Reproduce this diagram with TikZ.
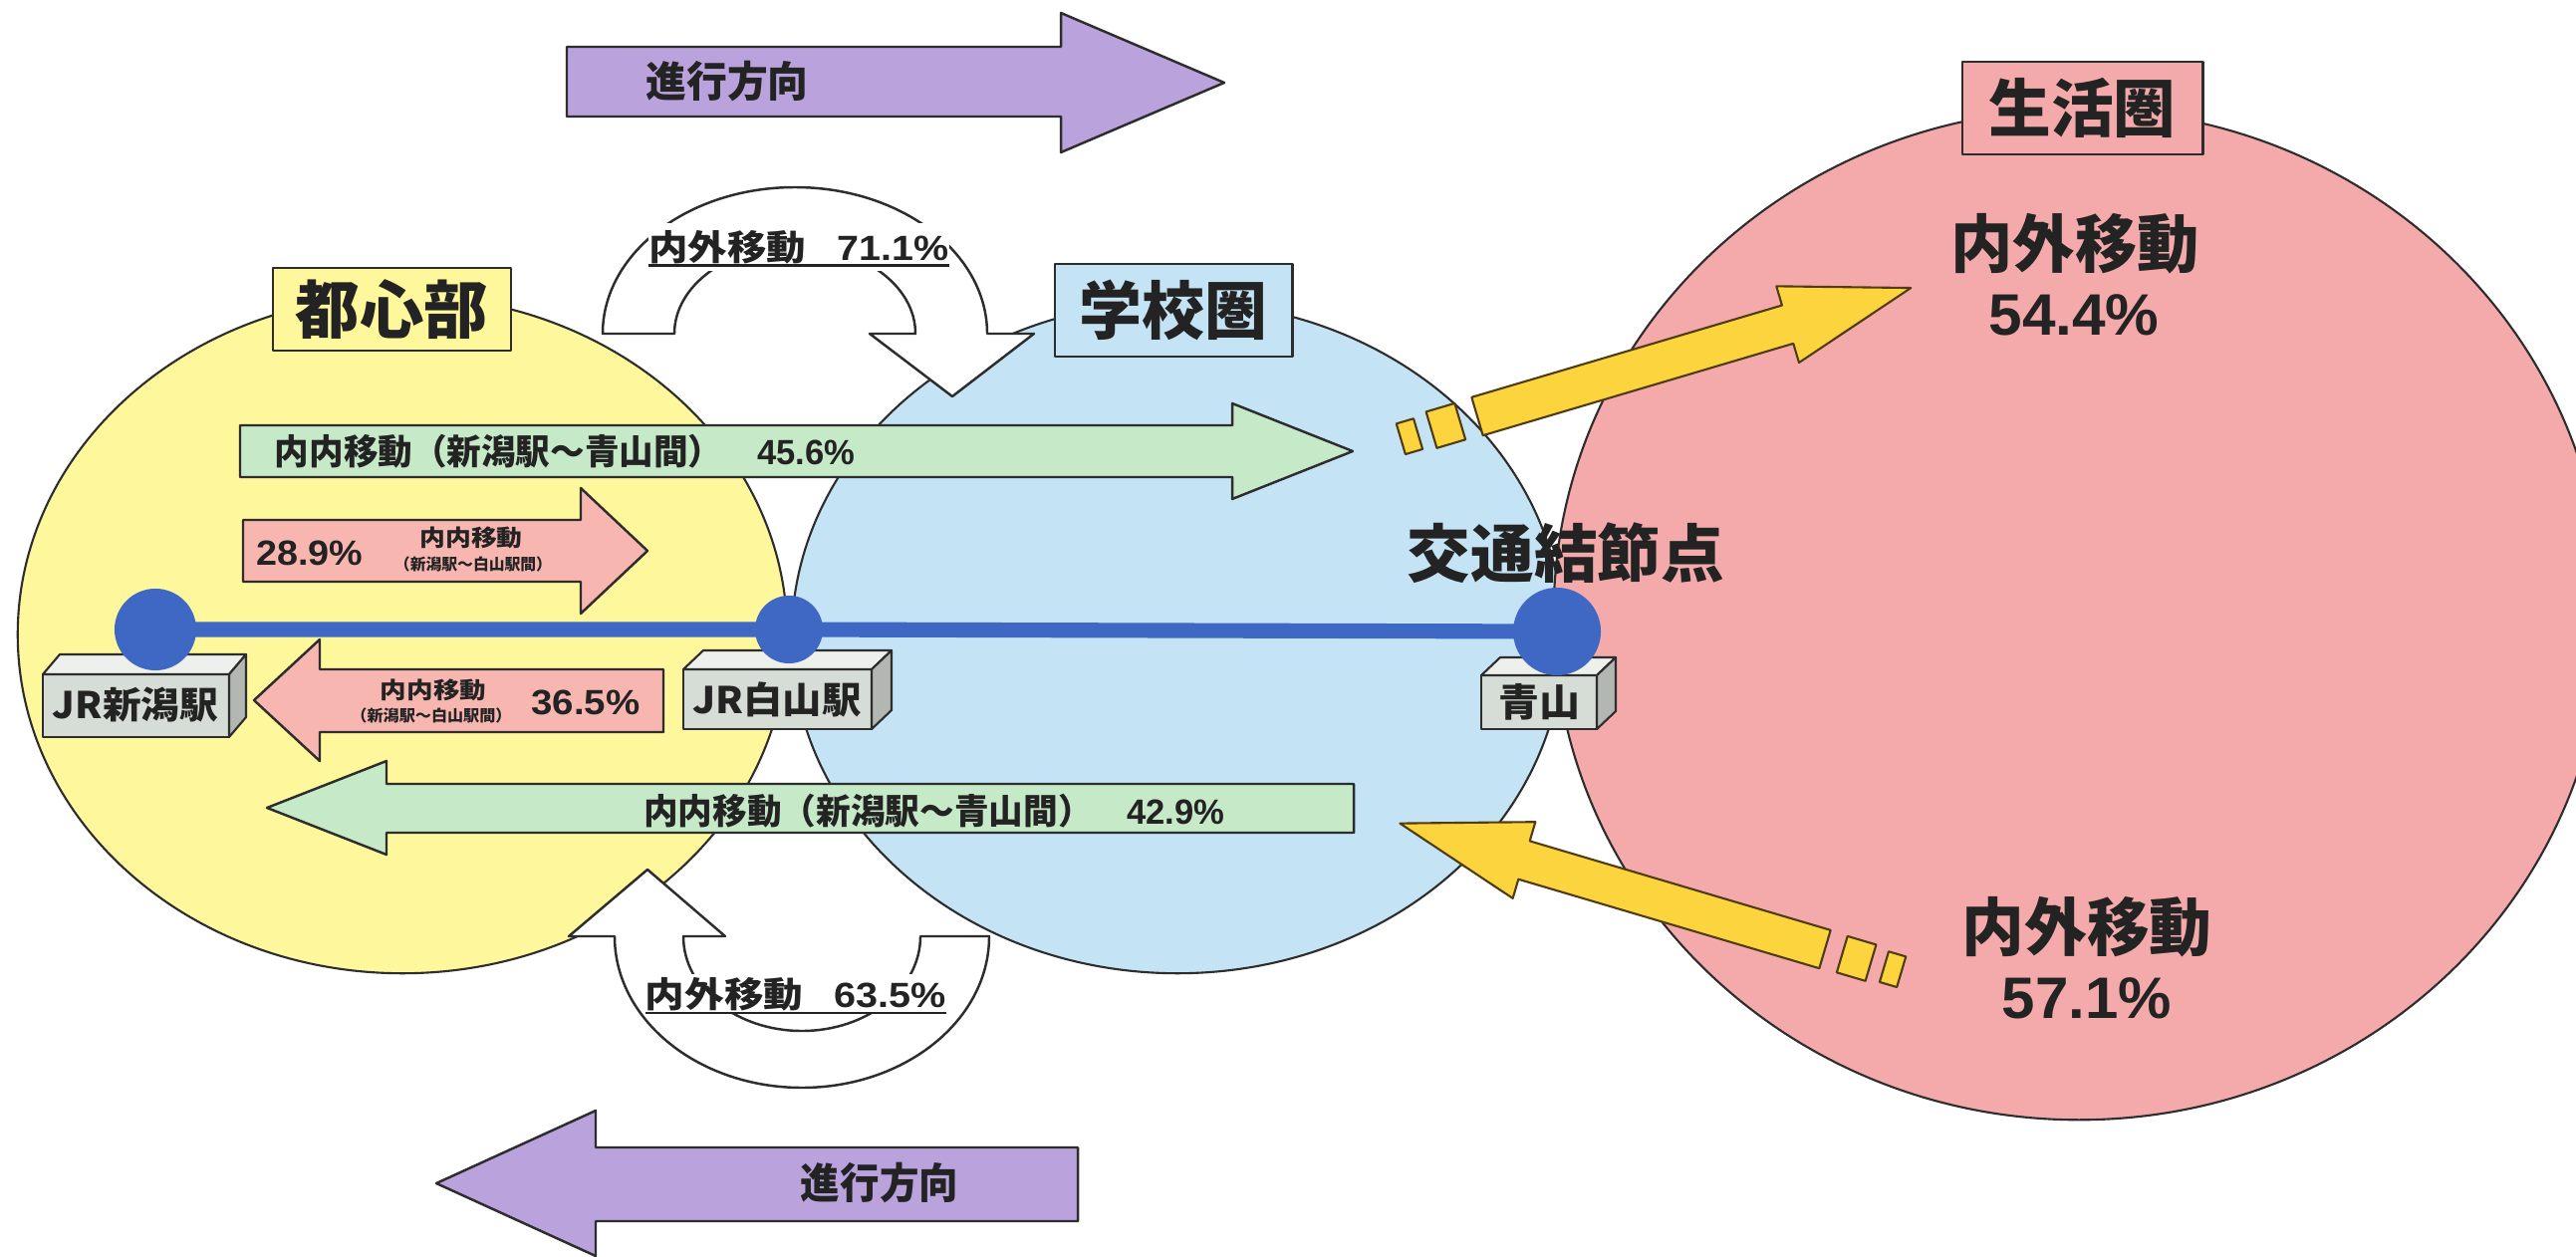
\documentclass[tikz,border=0pt]{standalone}
\usepackage{fontspec}
\setmainfont{Noto Sans CJK JP}
\newfontfamily\latf{Liberation Sans}
\usepackage{graphicx}
\usetikzlibrary{shapes.geometric}
\newcommand\fw[2]{\resizebox{#1}{\height}{#2}}
\newcommand\fs[1]{\fontsize{#1}{#1}\selectfont}
\definecolor{ylw}{RGB}{255,247,155}
\definecolor{sky}{RGB}{196,228,246}
\definecolor{pnk}{RGB}{244,170,170}
\definecolor{grn}{RGB}{198,233,200}
\definecolor{sal}{RGB}{248,182,176}
\definecolor{prp}{RGB}{186,162,220}
\definecolor{gold}{RGB}{252,212,62}
\definecolor{goldL}{RGB}{80,60,20}
\definecolor{lineC}{RGB}{45,45,45}
\definecolor{txtC}{RGB}{35,35,35}
\definecolor{stn}{RGB}{62,104,196}
\definecolor{boxF}{RGB}{214,220,214}
\definecolor{boxT}{RGB}{238,240,236}
\definecolor{boxS}{RGB}{178,183,178}
\begin{document}
\begin{tikzpicture}[x=0.01cm, y=0.01cm, line join=round,
 outl/.style={draw=lineC, line width=0.7pt},
 goldl/.style={draw=goldL, line width=0.6pt, fill=gold},
 area/.style={ellipse, draw=lineC, line width=0.6pt, inner sep=0pt},
 lbl/.style={text=txtC, inner sep=0pt, outer sep=0pt},
 tagbox/.style={draw=lineC, line width=0.8pt, inner sep=0pt, text=txtC, font=\bfseries\fs{18pt}},
 dot/.style={circle, fill=stn, inner sep=0pt},
 stfront/.style={draw=lineC, line width=0.6pt, fill=boxF},
 sttop/.style={draw=lineC, line width=0.6pt, fill=boxT},
 stside/.style={draw=lineC, line width=0.6pt, fill=boxS},
 ]
\fill[white] (0,0) rectangle (2586,-1261);
\useasboundingbox (0,0) rectangle (2586,-1261);
\clip (0,0) rectangle (2586,-1261);

% direction arrows
\draw[outl, fill=prp] (569,-47) -- (1065,-47) -- (1065,-13) -- (1229,-83) -- (1065,-153) -- (1065,-117) -- (569,-117) -- cycle;
\node[lbl, font=\bfseries\fs{12pt}] (dirTop) at (730,-82) {\fw{1.63cm}{進行方向}};
\draw[outl, fill=prp] (1082,-1152) -- (598,-1152) -- (598,-1115) -- (438,-1188) -- (598,-1261) -- (598,-1226) -- (1082,-1226) -- cycle;
\node[lbl, font=\bfseries\fs{12pt}] (dirBot) at (883,-1188) {\fw{1.58cm}{進行方向}};

% areas
\node[area, fill=ylw, minimum width=7.72cm, minimum height=6.8cm] (toshinArea) at (404,-637) {};
\node[area, fill=sky, minimum width=7.74cm, minimum height=6.74cm] (gakkoArea) at (1182,-640) {};
\node[area, fill=pnk, minimum width=10.54cm, minimum height=10.14cm] (seikatsuArea) at (2087,-617) {};

\node[tagbox, fill=ylw, minimum width=2.39cm, minimum height=0.83cm] (toshinTag) at (393.5,-310.5) {\fw{1.93cm}{都心部}};
\node[tagbox, fill=sky, minimum width=2.38cm, minimum height=0.93cm] (gakkoTag) at (1178,-311.5) {\fw{1.89cm}{学校圏}};
\node[tagbox, fill=pnk, minimum width=2.41cm, minimum height=0.93cm] (seikatsuTag) at (2090.5,-108.5) {\fw{1.88cm}{生活圏}};

% curved white arrows
\draw[outl, fill=white] (605,-335) arc[start angle=180, end angle=0, x radius=193, y radius=147] -- (1038,-335) -- (956,-398) -- (873,-335) -- (919,-335) arc[start angle=0, end angle=180, x radius=121, y radius=88] -- cycle;
\node[lbl, fill=white, inner ysep=2pt, font=\bfseries\fs{10pt}] (arcTopLbl) at (802,-248) {\fw{3.01cm}{内外移動\hspace{0.8em}{\latf 71.1\%}}};
\draw[txtC, line width=0.7pt] ([yshift=-0.055cm]arcTopLbl.base west) -- ([yshift=-0.055cm]arcTopLbl.base east);

\draw[outl, fill=white] (924,-940) arc[start angle=0, end angle=-180, x radius=119, y radius=95] -- (728,-940) -- (650,-873) -- (571,-940) -- (617,-940) arc[start angle=180, end angle=360, x radius=188, y radius=152] -- cycle;
\node[lbl, fill=white, inner ysep=1pt, font=\bfseries\fs{10pt}] (arcBotLbl) at (799,-998) {\fw{3.02cm}{内外移動\hspace{0.8em}{\latf 63.5\%}}};
\draw[txtC, line width=0.7pt] ([yshift=-0.055cm]arcBotLbl.base west) -- ([yshift=-0.055cm]arcBotLbl.base east);

% yellow arrows
\begin{scope}[shift={(1483,-418)}, rotate=16.5]
 \draw[goldl] (0,-20) -- (325,-20) -- (325,-40) -- (454,0) -- (325,40) -- (325,20) -- (0,20) -- cycle;
 \draw[goldl] (-48,-19) rectangle (-18,19);
 \draw[goldl] (-80,-16) rectangle (-62,16);
\end{scope}
\begin{scope}[shift={(1832,-953)}, rotate=163.5]
 \draw[goldl] (0,-20) -- (315,-20) -- (315,-40) -- (445,0) -- (315,40) -- (315,20) -- (0,20) -- cycle;
 \draw[goldl] (-48,-19) rectangle (-18,19);
 \draw[goldl] (-80,-16) rectangle (-62,16);
\end{scope}

% green arrows
\draw[outl, fill=grn] (241,-427) -- (1237,-427) -- (1237,-405) -- (1358,-453) -- (1237,-501) -- (1237,-479) -- (241,-479) -- cycle;
\node[lbl, font=\bfseries\fs{10pt}] (innerA) at (567,-453) {\fw{5.82cm}{内内移動（新潟駅～青山間）\hspace{1em}{\latf 45.6\%}}};
\draw[outl, fill=grn] (1359,-787) -- (388,-787) -- (388,-764) -- (268,-811) -- (388,-858) -- (388,-836) -- (1359,-836) -- cycle;
\node[lbl, font=\bfseries\fs{10pt}] (innerD) at (938,-814) {\fw{5.83cm}{内内移動（新潟駅～青山間）\hspace{1em}{\latf 42.9\%}}};

% salmon arrows
\draw[outl, fill=sal] (244,-522) -- (583,-522) -- (583,-490) -- (650,-553) -- (583,-616) -- (583,-584) -- (244,-584) -- cycle;
\node[lbl, font=\bfseries\fs{10pt}] (pctB) at (311,-555) {\fw{1.07cm}{\latf 28.9\%}};
\node[lbl, font=\bfseries\fs{6.5pt}] (innerB) at (473,-540) {\fw{1.03cm}{内内移動}};
\node[lbl, font=\bfseries\fs{4.5pt}] (innerBsub) at (475,-566) {\fw{1.58cm}{（新潟駅～白山駅間）}};
\draw[outl, fill=sal] (666,-672) -- (321,-672) -- (321,-642) -- (255,-703) -- (321,-764) -- (321,-735) -- (666,-735) -- cycle;
\node[lbl, font=\bfseries\fs{6.5pt}] (innerC) at (435,-693) {\fw{1.06cm}{内内移動}};
\node[lbl, font=\bfseries\fs{4.5pt}] (innerCsub) at (433,-718) {\fw{1.61cm}{（新潟駅～白山駅間）}};
\node[lbl, font=\bfseries\fs{10pt}] (pctC) at (588,-705) {\fw{1.09cm}{\latf 36.5\%}};

% rail line and stations
\coordinate (niigata) at (156,-632);
\coordinate (hakusan) at (792,-632);
\coordinate (aoyama) at (1563,-634);
\draw[stn, line width=4.3pt] (niigata) -- (hakusan) -- (aoyama);

\draw[stfront] (43,-677) rectangle (230,-740);
\draw[sttop] (43,-677) -- (60,-657) -- (247,-657) -- (230,-677) -- cycle;
\draw[stside] (230,-677) -- (247,-657) -- (247,-720) -- (230,-740) -- cycle;
\node[lbl, font=\bfseries\fs{10.5pt}] (niigataName) at (136,-708) {\fw{1.66cm}{JR新潟駅}};

\draw[stfront] (686,-672) rectangle (875,-732);
\draw[sttop] (686,-672) -- (706,-653) -- (895,-653) -- (875,-672) -- cycle;
\draw[stside] (875,-672) -- (895,-653) -- (895,-713) -- (875,-732) -- cycle;
\node[lbl, font=\bfseries\fs{10.5pt}] (hakusanName) at (780,-702) {\fw{1.69cm}{JR白山駅}};

\draw[stfront] (1487,-678) rectangle (1603,-732);
\draw[sttop] (1487,-678) -- (1506,-660) -- (1622,-660) -- (1603,-678) -- cycle;
\draw[stside] (1603,-678) -- (1622,-660) -- (1622,-714) -- (1603,-732) -- cycle;
\node[lbl, font=\bfseries\fs{11pt}] (aoyamaName) at (1545,-705) {\fw{0.82cm}{青山}};

\node[dot, minimum size=0.82cm] (niigataDot) at (niigata) {};
\node[dot, minimum size=0.68cm] (hakusanDot) at (hakusan) {};
\node[dot, minimum size=0.88cm] (aoyamaDot) at (aoyama) {};

% texts
\node[lbl, font=\bfseries\fs{18pt}] (hub) at (1572,-555) {\fw{3.18cm}{交通結節点}};
\node[lbl, font=\bfseries\fs{18pt}] (outA) at (2083,-245) {\fw{2.49cm}{内外移動}};
\node[lbl, font=\bfseries\fs{16.7pt}] (outApct) at (2082,-316) {\fw{1.71cm}{\latf 54.4\%}};
\node[lbl, font=\bfseries\fs{18pt}] (outB) at (2095,-931) {\fw{2.51cm}{内外移動}};
\node[lbl, font=\bfseries\fs{16.7pt}] (outBpct) at (2095,-1002) {\fw{1.70cm}{\latf 57.1\%}};
\end{tikzpicture}
\end{document}
